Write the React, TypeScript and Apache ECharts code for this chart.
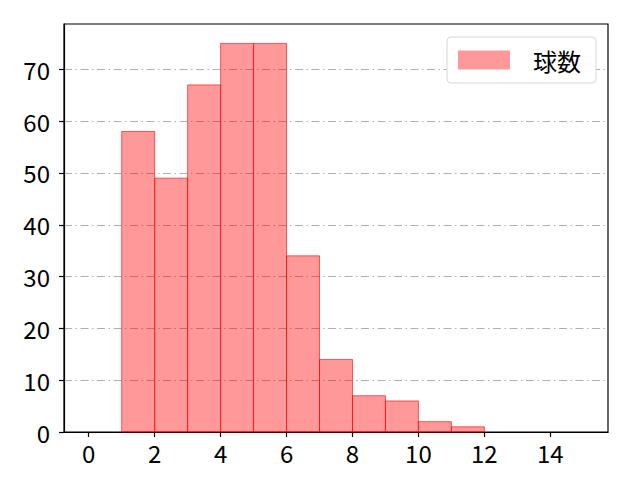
import { useEffect, useRef } from 'react';
import * as echarts from 'echarts';

// histogram bins (left edge, right edge) and counts
const binEdges = [0, 1, 2, 3, 4, 5, 6, 7, 8, 9, 10, 11, 12, 13, 14, 15];
const counts = [0, 58, 49, 67, 75, 75, 34, 14, 7, 6, 2, 1, 0, 0, 0];
const xTicks = [0, 2, 4, 6, 8, 10, 12, 14];
const yTicks = [0, 10, 20, 30, 40, 50, 60, 70];
const seriesName = '球数';

const FONT = '"Noto Sans CJK JP", "DejaVu Sans", sans-serif';

const App = () => {
    const chartRef = useRef<HTMLDivElement>(null);

    useEffect(() => {
        if (!chartRef.current) return;
        const chart = echarts.init(chartRef.current, undefined, { renderer: 'svg' });

        const data = counts.map((c, i) => [binEdges[i], binEdges[i + 1], c]);

        chart.setOption({
            animation: false,
            backgroundColor: '#ffffff',
            textStyle: { fontFamily: FONT },
            grid: {
                left: 64, right: 32, top: 24, bottom: 48,
                show: true, borderColor: '#000', borderWidth: 1.2
            },
            legend: {
                data: [{ name: seriesName, icon: 'rect' }],
                right: 44,
                top: 37,
                orient: 'vertical',
                itemWidth: 52,
                itemHeight: 19,
                padding: [11, 15, 11, 11],
                backgroundColor: '#fff',
                borderColor: '#d6d6d6',
                borderWidth: 1,
                borderRadius: 4,
                textStyle: { fontSize: 24, color: '#000', fontFamily: FONT, padding: [0, 0, 0, 18] }
            },
            xAxis: {
                type: 'value',
                min: -0.75,
                max: 15.75,
                axisLine: { onZero: false, lineStyle: { color: '#000', width: 1.2 } },
                axisTick: { show: true, customValues: xTicks, length: 5, lineStyle: { color: '#000', width: 1.2 } },
                axisLabel: { customValues: xTicks, fontSize: 24, color: '#000', margin: 8, fontFamily: FONT },
                splitLine: { show: false }
            },
            yAxis: {
                type: 'value',
                min: 0,
                max: 78.75,
                interval: 10,
                axisLine: { show: true, onZero: false, lineStyle: { color: '#000', width: 1.2 } },
                axisTick: { show: true, customValues: yTicks, length: 5, lineStyle: { color: '#000', width: 1.2 } },
                axisLabel: { customValues: yTicks, fontSize: 24, color: '#000', margin: 14, fontFamily: FONT },
                splitLine: { show: true, lineStyle: { color: '#b0b0b0', width: 1, type: [8, 3.5, 1.5, 3.5] } }
            },
            series: [{
                name: seriesName,
                type: 'custom',
                data,
                itemStyle: { color: 'rgba(255,0,0,0.4)', borderColor: 'rgba(255,0,0,0.6)' },
                encode: { x: [0, 1], y: 2 },
                renderItem: (params: any, api: any) => {
                    const h = api.value(2);
                    if (!h) return null;
                    const p0 = api.coord([api.value(0), 0]);
                    const p1 = api.coord([api.value(1), h]);
                    return {
                        type: 'rect',
                        shape: { x: p0[0], y: p1[1], width: p1[0] - p0[0], height: p0[1] - p1[1] },
                        style: { fill: 'rgba(255,0,0,0.4)', stroke: 'rgba(255,0,0,0.6)', lineWidth: 1 }
                    };
                }
            }]
        });

        return () => chart.dispose();
    }, []);

    return (
        <div
            ref={chartRef}
            style={{ position: 'fixed', left: 0, top: 0, width: 640, height: 480 }}
        />
    );
};

export default App;
